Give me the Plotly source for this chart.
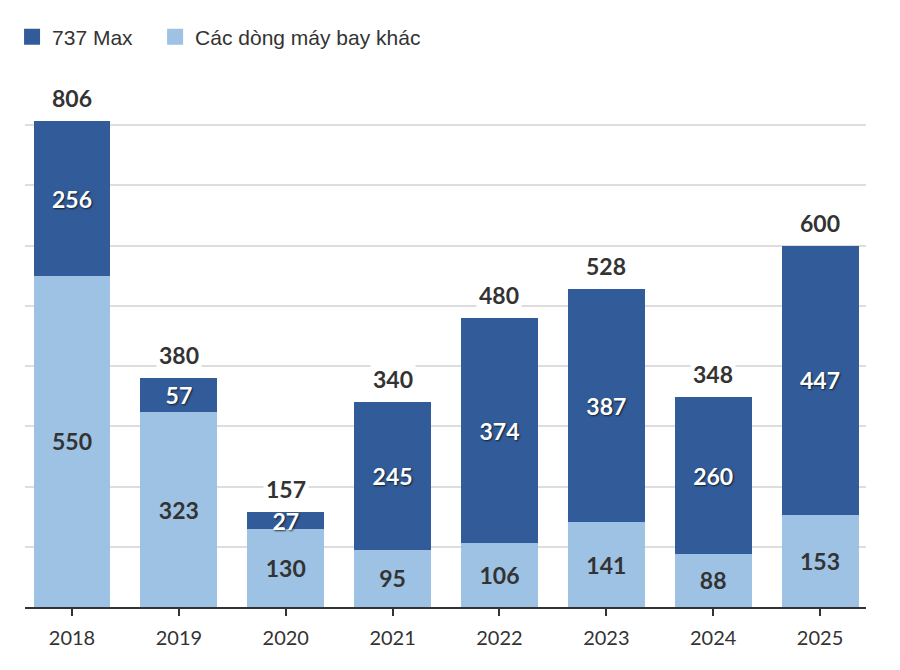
import plotly.graph_objects as go

years = ["2018", "2019", "2020", "2021", "2022", "2023", "2024", "2025"]
max737 = [256, 57, 27, 245, 374, 387, 260, 447]
others = [550, 323, 130, 95, 106, 141, 88, 153]
totals = [806, 380, 157, 340, 480, 528, 348, 600]
legend_names = ["737 Max", "Các dòng máy bay khác"]

DARK = "rgb(50,92,153)"
LIGHT = "rgb(157,194,227)"
FONT = "Lato"

fig = go.Figure()
fig.add_bar(
    x=years, y=others, name=legend_names[1],
    marker=dict(color=LIGHT, line=dict(width=0)),
    text=[str(v) for v in others], textposition="inside", insidetextanchor="middle",
    textfont=dict(family=FONT, size=23, color="#333333", weight="bold"),
    textangle=0, showlegend=False,
)
fig.add_bar(
    x=years, y=max737, name=legend_names[0],
    marker=dict(color=DARK, line=dict(width=0)),
    text=[str(v) for v in max737], textposition="inside", insidetextanchor="middle",
    textfont=dict(family=FONT, size=23, color="white", weight="bold",
                  shadow="1px 1px 2px rgba(0,0,0,0.7)"),
    textangle=0, showlegend=False,
)
# legend entries
fig.add_scatter(x=[None], y=[None], mode="markers", name=legend_names[0] + "\u00a0\u00a0\u00a0",
                marker=dict(symbol="square", size=16, color=DARK))
fig.add_scatter(x=[None], y=[None], mode="markers", name=legend_names[1],
                marker=dict(symbol="square", size=16, color=LIGHT))

for i, t in enumerate(totals):
    fig.add_annotation(
        x=i, y=t, xref="x", yref="y", text=str(t), showarrow=False,
        yanchor="bottom", yshift=6,
        font=dict(family=FONT, size=23, color="#333333", weight="bold"),
        bgcolor="white", borderpad=2,
    )

fig.update_layout(
    barmode="stack", bargap=0.28,
    width=900, height=670,
    margin=dict(l=17, r=42, t=93, b=71),
    paper_bgcolor="white", plot_bgcolor="white",
    uniformtext=dict(minsize=23, mode="show"),
    legend=dict(orientation="h", x=0.0045, xref="container", xanchor="left",
                y=0.987, yref="container", yanchor="top",
                font=dict(family="Liberation Sans", size=21, color="#333333"),
                traceorder="normal", itemwidth=30),
    font=dict(family=FONT, color="#333333"),
)
fig.update_xaxes(
    type="category",
    range=[-0.44, 7.43], showgrid=False, showline=True, linecolor="#333333", linewidth=1.5,
    ticks="outside", ticklen=7, tickcolor="#333333", tickwidth=1.5,
    tickfont=dict(family=FONT, size=20, color="#333333"), ticklabelstandoff=5,
)
fig.update_yaxes(
    range=[0, 840], showgrid=True, gridcolor="#dddddd", gridwidth=1.5, dtick=100,
    showticklabels=False, zeroline=False, showline=False,
)

fig.write_html("out.html")
